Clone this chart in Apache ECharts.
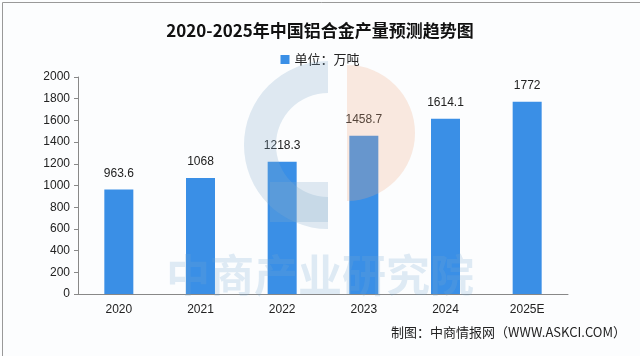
<!DOCTYPE html>
<html><head><meta charset="utf-8">
<script src="https://cdn.jsdelivr.net/npm/echarts@6/dist/echarts.min.js"></script>
<style>html,body{margin:0;padding:0;background:#fff}#c{width:640px;height:356px}</style>
</head><body><div id="c"></div>
<script>
const categories = ['2020','2021','2022','2023','2024','2025E'];
const values = [963.6, 1068, 1218.3, 1458.7, 1614.1, 1772];
const yTicks = [0,200,400,600,800,1000,1200,1400,1600,1800,2000];
const chart = echarts.init(document.getElementById('c'));
chart.setOption({
  backgroundColor: '#fcfdfe',
  title: {text: '2020-2025年中国铝合金产量预测趋势图', left: 'center', top: 17,
    textStyle: {fontFamily: 'Noto Sans CJK SC', fontSize: 17, fontWeight: 'bold', color: '#111'}},
  legend: {top: 48, left: 'center', itemWidth: 9, itemHeight: 9, icon: 'rect',
    textStyle: {fontFamily: 'Noto Sans CJK SC', fontSize: 13, color: '#222'},
    data: ['单位：万吨']},
  grid: {left: 78, right: 72, top: 77, bottom: 62},
  xAxis: {type: 'category', data: categories,
    axisLine: {lineStyle: {color: '#888'}}, axisTick: {lineStyle: {color: '#888'}, length: 4},
    axisLabel: {color: '#222', fontSize: 12, margin: 10}},
  yAxis: {type: 'value', min: 0, max: 2000, interval: 200,
    axisLine: {show: true, lineStyle: {color: '#888'}}, axisTick: {show: true, length: 4, lineStyle: {color: '#888'}},
    splitLine: {show: false},
    axisLabel: {color: '#222', fontSize: 12, margin: 8, formatter: v => yTicks.includes(v) ? String(v) : ''}},
  series: [{name: '单位：万吨', type: 'bar', data: values, barWidth: 29,
    itemStyle: {color: '#3a8fe6'},
    label: {show: true, position: 'top', distance: 10, color: '#222', fontSize: 12}}],
  graphic: [
    {type: 'rect', left: 0, top: 0, shape: {width: 639, height: 355}, style: {fill: 'none', stroke: '#999', lineWidth: 1}, z: 100},
    {type: 'sector', shape: {cx: 328, cy: 145, r: 84, r0: 52, startAngle: Math.PI*0.5, endAngle: Math.PI*1.5}, style: {fill: 'rgba(130,170,205,0.25)'}, z: 50},
    {type: 'rect', shape: {x: 270, y: 182, width: 58, height: 40}, style: {fill: 'rgba(130,170,205,0.25)'}, z: 50},
    {type: 'sector', shape: {cx: 347, cy: 133, r: 68, r0: 0, startAngle: -Math.PI*0.5, endAngle: Math.PI*0.5}, style: {fill: 'rgba(240,170,130,0.25)'}, z: 50},
    {type: 'text', left: 'center', top: 253, style: {text: '中商产业研究院', fill: 'rgba(120,170,210,0.22)', font: 'bold 44px "Noto Sans CJK SC"'}, z: 50},
    {type: 'text', right: 14, top: 326, style: {text: '制图：中商情报网（WWW.ASKCI.COM）', fill: '#222', font: '13px "Noto Sans CJK SC"'}, z: 60}
  ]
});
</script></body></html>
